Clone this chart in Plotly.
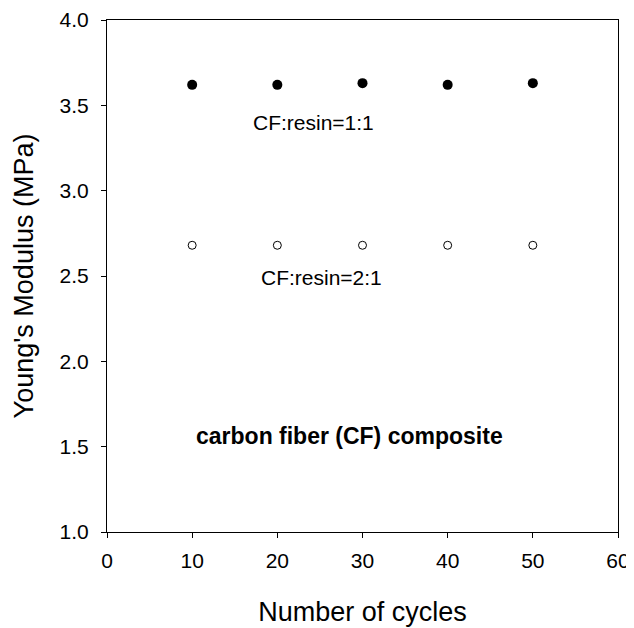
import plotly.graph_objects as go

cycles = [10, 20, 30, 40, 50]
modulus_1to1 = [3.62, 3.62, 3.63, 3.62, 3.63]
modulus_2to1 = [2.68, 2.68, 2.68, 2.68, 2.68]

x_ticks = [0, 10, 20, 30, 40, 50, 60]
y_ticks = [1.0, 1.5, 2.0, 2.5, 3.0, 3.5, 4.0]
y_tick_text = ["1.0", "1.5", "2.0", "2.5", "3.0", "3.5", "4.0"]

FONT = "Arial, 'Liberation Sans', sans-serif"

fig = go.Figure()
fig.add_trace(go.Scatter(
    x=cycles, y=modulus_1to1, mode="markers", name="CF:resin=1:1",
    marker=dict(symbol="circle", size=10, color="black", line=dict(width=0)),
))
fig.add_trace(go.Scatter(
    x=cycles, y=modulus_2to1, mode="markers", name="CF:resin=2:1",
    marker=dict(symbol="circle-open", size=8, color="black", line=dict(width=1, color="black")),
))

fig.add_annotation(x=24.2, y=3.40, text="CF:resin=1:1", showarrow=False,
                   font=dict(family=FONT, size=21, color="black"))
fig.add_annotation(x=25.2, y=2.49, text="CF:resin=2:1", showarrow=False,
                   font=dict(family=FONT, size=21, color="black"))
fig.add_annotation(x=28.5, y=1.56, text="<b>carbon fiber (CF) composite</b>", showarrow=False,
                   font=dict(family=FONT, size=23, color="black"))

axis_common = dict(
    showline=True, linecolor="black", linewidth=1, mirror=True,
    ticks="outside", ticklen=5, tickwidth=1, tickcolor="black",
    showgrid=False, zeroline=False, automargin=False,
    tickfont=dict(family=FONT, size=21, color="black"),
)

fig.update_xaxes(
    range=[0, 60], tickmode="array", tickvals=x_ticks,
    title=dict(text="Number of cycles", font=dict(family=FONT, size=27, color="black"), standoff=30),
    ticklabelstandoff=5,
    **axis_common,
)
fig.update_yaxes(
    range=[1.0, 4.0], tickmode="array", tickvals=y_ticks, ticktext=y_tick_text,
    title=dict(text="Young's Modulus (MPa)", font=dict(family=FONT, size=27, color="black"), standoff=18),
    ticklabelstandoff=8,
    **axis_common,
)

# the page body adds an 8px offset, so the figure is sized to fit the window
fig.update_layout(
    width=626, height=620,
    margin=dict(l=99, r=16, t=12, b=96),
    plot_bgcolor="white", paper_bgcolor="white",
    showlegend=False,
)

fig.write_html("out.html")
